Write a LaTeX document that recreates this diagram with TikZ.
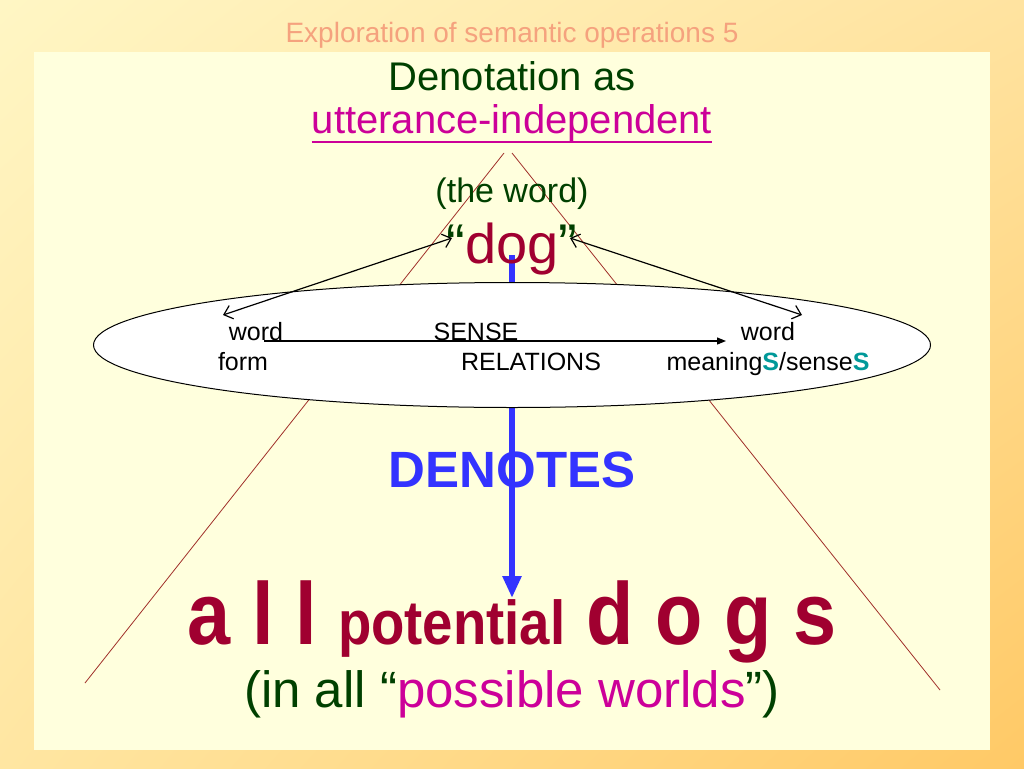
\documentclass[tikz,border=0pt]{standalone}
\usepackage{fontspec}
\setmainfont{Liberation Sans}
\newfontfamily\condfont[FakeStretch=0.88]{Liberation Sans}
\usetikzlibrary{positioning,shapes,calc,arrows.meta,shadings}

\definecolor{bgul}{HTML}{FFF6C4}
\definecolor{bgur}{HTML}{FFE3A0}
\definecolor{bgll}{HTML}{FFE6A2}
\definecolor{bglr}{HTML}{FFC966}
\definecolor{panelcol}{HTML}{FFFFDD}
\definecolor{titlecol}{HTML}{F5A27E}
\definecolor{dgreen}{HTML}{004000}
\definecolor{pinkcol}{HTML}{CC0099}
\definecolor{dogred}{HTML}{A00030}
\definecolor{denblue}{HTML}{3333FF}
\definecolor{tealcol}{HTML}{009999}
\definecolor{rulered}{HTML}{A0302A}

\tikzset{
  lbl/.style={inner sep=0pt, anchor=base},
  fsz/.style={font=\fontsize{#1}{#1}\selectfont},
  dblarrow/.style={line width=1.2pt, {Straight Barb[length=8pt,width=14pt]}-{Straight Barb[length=8pt,width=14pt]}},
  relarrow/.style={line width=1.2pt, -{Triangle[length=9pt,width=7pt]}},
  denarrow/.style={denblue, line width=6pt, -{Triangle[length=22pt,width=18pt]}},
  rule/.style={rulered, line width=0.8pt}
}

\begin{document}
\begin{tikzpicture}[x=1pt, y=-1pt, line join=bevel]
  % background and panel
  \shade[upper left=bgul, upper right=bgur, lower left=bgll, lower right=bglr]
    (0,0) rectangle (1024,768);
  \fill[panelcol] (34,52) rectangle (990,750);
  \useasboundingbox (0,0) rectangle (1024,768);

  % Node: title
  \node[lbl, fsz=28, text=titlecol] (ttl) at (512,42) {Exploration of semantic operations 5};
  \node[lbl, fsz=40, text=dgreen] (head) at (512,90) {Denotation as};
  \node[lbl, fsz=40, text=pinkcol] (indep) at (512,133) {utterance-independent};
  \draw[pinkcol, line width=2pt] ([yshift=-9pt]indep.base west) -- ([yshift=-9pt]indep.base east);

  % the two rules of the cone
  \coordinate (apexl) at (504,153);
  \coordinate (apexr) at (512,153);
  \coordinate (footl) at (85,683);
  \coordinate (footr) at (940,690);
  \draw[rule] (apexl) -- (footl);
  \draw[rule] (apexr) -- (footr);

  % Node: denotes arrow
  \coordinate (dogfoot) at (512,255);
  \coordinate (dogstip) at (512,598);
  \draw[denarrow] (dogfoot) -- (dogstip);

  % Node: sense ellipse
  \node[draw, ellipse, fill=white, line width=1pt, minimum width=837pt, minimum height=125pt,
        inner sep=0pt] (sense) at (512,345) {};

  \node[lbl, fsz=34, text=dgreen] (theword) at (512,202) {(the word)};
  \node[lbl, fsz=56] (dog) at (512,263)
    {\textcolor{dgreen}{“}\textcolor{dogred}{dog}\textcolor{dgreen}{”}};

  % Node: ellipse labels
  \node[lbl, fsz=25] (formtop) at (256,340) {word};
  \node[lbl, fsz=25] (formbot) at (243,370) {form};
  \node[lbl, fsz=25] (reltop) at (476,340) {SENSE};
  \node[lbl, fsz=25] (relbot) at (531,370) {RELATIONS};
  \node[lbl, fsz=25] (meantop) at (768,340) {word};
  \node[lbl, fsz=25] (meanbot) at (768,370)
    {meaning\textbf{\textcolor{tealcol}{S}}/sense\textbf{\textcolor{tealcol}{S}}};

  % connectors
  \coordinate (formtip) at (223,315);
  \coordinate (dogleft) at (452,238);
  \coordinate (dogright) at (570,238);
  \coordinate (meantip) at (802,315);
  \coordinate (relfrom) at (264,341);
  \coordinate (relto) at (726,341);
  \draw[dblarrow] (formtip) -- (dogleft);
  \draw[dblarrow] (dogright) -- (meantip);
  \draw[relarrow] (relfrom) -- (relto);

  % Node: denotes
  \node[lbl, fsz=51, text=denblue] (denotes) at (512,487) {\bfseries DENOTES};

  % Node: all potential dogs
  \node[lbl, text=dogred, font=\condfont\bfseries\fontsize{88}{88}\selectfont] (alldogs) at (512,644)
    {a l l {\fontsize{62}{62}\selectfont potential} d o g s};
  \node[lbl, fsz=51, text=dgreen] (worlds) at (512,707)
    {(in all “\textcolor{pinkcol}{possible worlds}”)};
\end{tikzpicture}
\end{document}
